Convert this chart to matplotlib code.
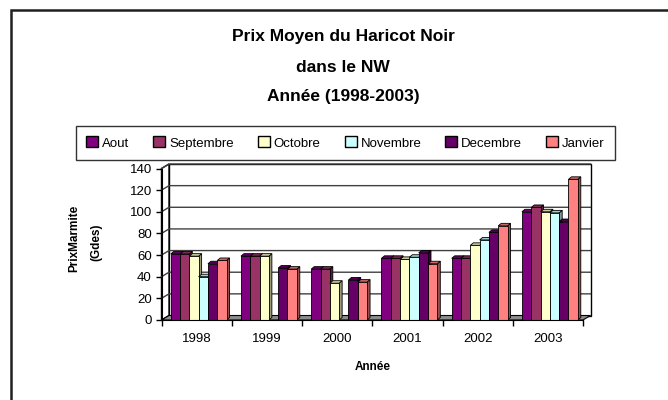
import numpy as np
import matplotlib
matplotlib.use("Agg")
import matplotlib.pyplot as plt
from matplotlib.patches import Patch, Polygon, Rectangle

plt.rcParams['font.family'] = ['Liberation Sans', 'DejaVu Sans']

# Donnees (prix moyen, Gdes)
annees = ['1998', '1999', '2000', '2001', '2002', '2003']
mois = ['Aout', 'Septembre', 'Octobre', 'Novembre', 'Decembre', 'Janvier']
aout = [61, 59, 47, 57, 57, 100]
septembre = [61, 59, 47, 57, 57, 104]
octobre = [59, 59, 34, 56, 69, 100]
novembre = [40, np.nan, np.nan, 58, 74, 99]
decembre = [52, 48, 37, 62, 81, 91]
janvier = [55, 47, 35, 52, 87, 130]
series = [aout, septembre, octobre, novembre, decembre, janvier]
couleurs = ['#800080', '#993366', '#FFFFCC', '#CCFFFF', '#660066', '#FF8080']

W, H = 668, 400
fig = plt.figure(figsize=(W / 100, H / 100), dpi=100)

# plan avant du graphique (pixels)
x0, x1 = 161.5, 583.0
y0, y1 = 320.0, 168.5
ax = fig.add_axes([x0 / W, 1 - y0 / H, (x1 - x0) / W, (y0 - y1) / H])
ax.set_xlim(0, 6)
ax.set_ylim(0, 140)

px_x = (x1 - x0) / 6      # pixels par unite x
px_y = (y0 - y1) / 140    # pixels par unite y
dx, dy = 7.5 / px_x, 4.5 / px_y   # profondeur du mur
bx, by = 3.0 / px_x, 2.5 / px_y   # profondeur des barres

# mur du fond + mur gauche + sol
ax.add_patch(Rectangle((dx, dy), 6, 140, facecolor='white', edgecolor='black',
                       lw=1, clip_on=False, zorder=0))
ax.add_patch(Polygon([(0, 0), (dx, dy), (dx, 140 + dy), (0, 140)], closed=True,
                     facecolor='white', edgecolor='black', lw=1, clip_on=False, zorder=0))
for g in range(20, 141, 20):
    ax.plot([0, dx, 6 + dx], [g, g + dy, g + dy], color='#404040', lw=1,
            clip_on=False, zorder=1)
ax.add_patch(Polygon([(0, 0), (6, 0), (6 + dx, dy), (dx, dy)], closed=True,
                     facecolor='#8c8c8c', edgecolor='black', lw=0.8, clip_on=False, zorder=1))


def assombrir(c, f):
    r, g, b = matplotlib.colors.to_rgb(c)
    return (r * f, g * f, b * f)


w = 0.1325
debut = 0.131
z = 2
for j, (vals, c) in enumerate(zip(series, couleurs)):
    xs = np.arange(6) + debut + j * w
    for xl, v in zip(xs, vals):
        if np.isnan(v):
            continue
        ax.add_patch(Polygon([(xl + w, 0), (xl + w + bx, by), (xl + w + bx, v + by), (xl + w, v)],
                             closed=True, facecolor=assombrir(c, 0.6), edgecolor='black',
                             lw=0.6, zorder=z))
        ax.add_patch(Polygon([(xl, v), (xl + w, v), (xl + w + bx, v + by), (xl + bx, v + by)],
                             closed=True, facecolor=assombrir(c, 0.8), edgecolor='black',
                             lw=0.6, zorder=z))
        ax.bar(xl, v, width=w, align='edge', color=c, edgecolor='black', lw=0.6, zorder=z + 0.5)
        z += 1

for s in ['top', 'right']:
    ax.spines[s].set_visible(False)
ax.spines['left'].set_zorder(200)
ax.spines['bottom'].set_zorder(200)
ax.set_yticks(range(0, 141, 20))
ax.tick_params(axis='y', length=4, width=1, labelsize=9.5, pad=3)
ax.set_xticks(range(7))
ax.set_xticklabels([])
ax.set_xticks(np.arange(6) + 0.5, minor=True)
ax.set_xticklabels(annees, minor=True)
ax.tick_params(axis='x', which='major', length=4, width=1)
ax.tick_params(axis='x', which='minor', length=0, labelsize=9.5, pad=9)

ax.set_xlabel('Année', fontsize=8.5, fontweight='bold', labelpad=12)
fig.text(74 / W, 1 - 238 / H, 'PrixMarmite', rotation=90, ha='center', va='center',
         fontsize=8.5, fontweight='bold')
fig.text(96 / W, 1 - 242 / H, '(Gdes)', rotation=90, ha='center', va='center',
         fontsize=8.5, fontweight='bold')

# titre
titres = ['Prix Moyen du Haricot Noir', 'dans le NW', 'Année (1998-2003)']
for t, yy in zip(titres, [37, 67, 97]):
    fig.text(343 / W, 1 - yy / H, t, ha='center', va='center', fontsize=12.5,
             fontweight='bold')

# legende
poignees = [Patch(facecolor=c, edgecolor='black', lw=1) for c in couleurs]
leg = fig.legend(poignees, mois, ncol=6, loc='center',
                 bbox_to_anchor=(73 / W, 1 - 159 / H, 545 / W, 32 / H), mode='expand',
                 fontsize=9.5, frameon=True, fancybox=False, handlelength=0.9,
                 handleheight=0.9, handletextpad=0.3, columnspacing=0.8, borderpad=0.8,
                 borderaxespad=0.2)
leg.get_frame().set_edgecolor('black')
leg.get_frame().set_linewidth(1)

# cadre exterieur
fig.add_artist(Rectangle((11 / W, -0.1), 1.2, 1 - 10 / H + 0.1, transform=fig.transFigure,
                         fill=False, edgecolor='#202020', lw=1.8))

fig.savefig('out.png', dpi=100)
